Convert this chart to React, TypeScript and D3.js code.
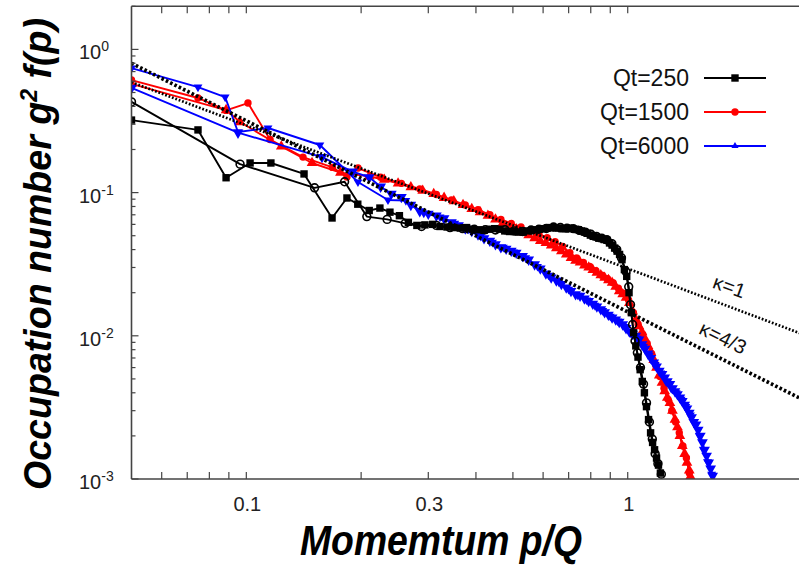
import React from 'react';
import * as d3 from 'd3';

type Pt = [number, number];

// ---------------- data (p/Q, g^2 f(p)) ----------------
const qt250Squares: Pt[] = [
  [0.05, 0.321], [0.0747, 0.274], [0.0885, 0.127], [0.1023, 0.161], [0.116, 0.161], [0.1417, 0.135],
  [0.1678, 0.0665], [0.1836, 0.0917], [0.196, 0.083], [0.21, 0.075], [0.224, 0.078], [0.238, 0.073],
  [0.252, 0.069], [0.266, 0.062], [0.28, 0.059], [0.294, 0.0595], [0.308, 0.06], [0.322, 0.058],
  [0.336, 0.0575], [0.35, 0.057], [0.364, 0.0565], [0.378, 0.057], [0.392, 0.0555], [0.406, 0.055],
  [0.42, 0.0545], [0.434, 0.0555], [0.448, 0.056], [0.462, 0.0555], [0.476, 0.054], [0.49, 0.0535],
  [0.504, 0.0535], [0.518, 0.053], [0.532, 0.053], [0.546, 0.054], [0.56, 0.0545], [0.574, 0.055],
  [0.588, 0.0555], [0.602, 0.056], [0.616, 0.0565], [0.63, 0.057], [0.644, 0.057], [0.658, 0.0565],
  [0.672, 0.056], [0.686, 0.056], [0.7, 0.0565], [0.714, 0.056], [0.728, 0.0555], [0.742, 0.055],
  [0.756, 0.054], [0.77, 0.053], [0.784, 0.052], [0.798, 0.0505], [0.812, 0.0495], [0.826, 0.049],
  [0.84, 0.048], [0.854, 0.0478], [0.868, 0.047], [0.882, 0.0465], [0.896, 0.0445], [0.91, 0.043],
  [0.924, 0.041], [0.938, 0.039], [0.952, 0.037], [0.966, 0.034], [0.98, 0.029], [0.994, 0.026],
  [1.008, 0.02], [1.022, 0.0145], [1.036, 0.0105], [1.05, 0.0085], [1.064, 0.0071], [1.078, 0.0058],
  [1.092, 0.0048], [1.106, 0.004], [1.12, 0.0032], [1.134, 0.0026], [1.148, 0.0021], [1.162, 0.0018],
  [1.176, 0.0016], [1.19, 0.0014], [1.204, 0.00125], [1.218, 0.0011],
];

const qt250Circles: Pt[] = [
  [0.05, 0.43], [0.0963, 0.158], [0.151, 0.108], [0.181, 0.119], [0.207, 0.068], [0.234, 0.065],
  [0.261, 0.061], [0.288, 0.058], [0.315, 0.059], [0.342, 0.057], [0.369, 0.056], [0.396, 0.0555],
  [0.423, 0.055], [0.45, 0.0548], [0.477, 0.055], [0.504, 0.054], [0.531, 0.0535], [0.558, 0.0548],
  [0.585, 0.0555], [0.612, 0.0562], [0.639, 0.0575], [0.666, 0.057], [0.693, 0.0565], [0.72, 0.056],
  [0.747, 0.0545], [0.774, 0.053], [0.801, 0.0512], [0.828, 0.0495], [0.855, 0.048], [0.882, 0.0468],
  [0.909, 0.044], [0.936, 0.04], [0.963, 0.035], [0.99, 0.028], [1.006, 0.022], [1.017, 0.0165],
  [1.03, 0.012], [1.045, 0.0092], [1.06, 0.0076], [1.08, 0.006], [1.1, 0.0046], [1.12, 0.0034],
  [1.14, 0.0025], [1.16, 0.0019], [1.18, 0.0015], [1.2, 0.00128], [1.225, 0.00108],
];

const qt1500Circles: Pt[] = [
  [0.05, 0.611], [0.0747, 0.458], [0.0885, 0.375], [0.101, 0.422], [0.1154, 0.235], [0.1408, 0.177],
  [0.1682, 0.15], [0.1836, 0.1285], [0.1963, 0.1485], [0.225, 0.128], [0.255, 0.116], [0.285, 0.106],
  [0.315, 0.097], [0.345, 0.089], [0.375, 0.082], [0.405, 0.076], [0.435, 0.07], [0.465, 0.065],
  [0.495, 0.061], [0.525, 0.0575], [0.555, 0.054], [0.585, 0.0512], [0.615, 0.0485], [0.645, 0.0455],
  [0.675, 0.042], [0.705, 0.038], [0.735, 0.035], [0.765, 0.0325], [0.795, 0.0305], [0.825, 0.0285],
  [0.855, 0.0265], [0.885, 0.025], [0.915, 0.0235], [0.945, 0.0215], [0.975, 0.0198], [1.005, 0.0178],
  [1.035, 0.0145], [1.065, 0.012], [1.095, 0.0102], [1.125, 0.0088], [1.155, 0.0075], [1.185, 0.0062],
  [1.215, 0.0052], [1.245, 0.0043], [1.275, 0.0036], [1.305, 0.003], [1.335, 0.0025], [1.365, 0.0021],
  [1.395, 0.0017], [1.425, 0.0014], [1.45, 0.0011],
];

const qt1500Triangles: Pt[] = [
  [0.05, 0.575], [0.0885, 0.377], [0.0963, 0.311], [0.1235, 0.21], [0.1487, 0.161], [0.1765, 0.138],
  [0.21, 0.13], [0.23, 0.123], [0.25, 0.116], [0.27, 0.109], [0.29, 0.103], [0.31, 0.098],
  [0.33, 0.092], [0.35, 0.087], [0.37, 0.082], [0.39, 0.077], [0.41, 0.073], [0.43, 0.069],
  [0.45, 0.065], [0.47, 0.061], [0.49, 0.058], [0.51, 0.0555], [0.53, 0.053], [0.55, 0.0505],
  [0.57, 0.048], [0.59, 0.046], [0.61, 0.0445], [0.63, 0.0428], [0.65, 0.041], [0.67, 0.039],
  [0.69, 0.037], [0.71, 0.035], [0.73, 0.0335], [0.75, 0.0325], [0.77, 0.031], [0.79, 0.03],
  [0.81, 0.0288], [0.83, 0.0276], [0.85, 0.0265], [0.87, 0.0255], [0.89, 0.0245], [0.91, 0.0235],
  [0.93, 0.022], [0.95, 0.0205], [0.97, 0.0195], [0.99, 0.0185], [1.01, 0.017], [1.03, 0.0148],
  [1.05, 0.013], [1.07, 0.0117], [1.09, 0.0106], [1.11, 0.0095], [1.13, 0.0085], [1.15, 0.0077],
  [1.17, 0.0068], [1.19, 0.006], [1.21, 0.0053], [1.23, 0.0047], [1.25, 0.0041], [1.27, 0.0037],
  [1.29, 0.0034], [1.31, 0.003], [1.33, 0.0026], [1.35, 0.0023], [1.37, 0.002], [1.39, 0.0017],
  [1.41, 0.0015], [1.43, 0.0013], [1.45, 0.00115], [1.46, 0.00104],
];

const qt6000TrianglesA: Pt[] = [
  [0.05, 0.741], [0.0747, 0.546], [0.088, 0.465], [0.0951, 0.265], [0.114, 0.2825], [0.1559, 0.215],
  [0.1962, 0.1186], [0.2352, 0.0888], [0.262, 0.088], [0.292, 0.072], [0.322, 0.0675], [0.352, 0.061],
  [0.382, 0.0555], [0.412, 0.0495], [0.442, 0.045], [0.472, 0.0415], [0.502, 0.0385], [0.54, 0.035],
  [0.58, 0.0305], [0.62, 0.0265], [0.66, 0.0237], [0.7, 0.0211], [0.74, 0.0192], [0.78, 0.0178],
  [0.82, 0.0163], [0.86, 0.015], [0.9, 0.0137], [0.94, 0.0127], [0.98, 0.0116], [1.02, 0.0104],
  [1.06, 0.0096], [1.1, 0.0084], [1.14, 0.0073], [1.18, 0.0063], [1.22, 0.0055], [1.26, 0.0048],
  [1.3, 0.0043], [1.34, 0.004], [1.38, 0.0036], [1.42, 0.0032], [1.46, 0.0028], [1.5, 0.0024],
  [1.54, 0.002], [1.58, 0.0016], [1.62, 0.00132], [1.66, 0.00108],
];

const qt6000TrianglesB: Pt[] = [
  [0.05, 0.538], [0.0951, 0.262], [0.1579, 0.177], [0.19, 0.14], [0.21, 0.128], [0.225, 0.11],
  [0.24, 0.098], [0.255, 0.093], [0.27, 0.082], [0.285, 0.074], [0.3, 0.071], [0.315, 0.069],
  [0.33, 0.066], [0.345, 0.062], [0.36, 0.059], [0.375, 0.056], [0.39, 0.054], [0.405, 0.051],
  [0.42, 0.048], [0.435, 0.046], [0.45, 0.0435], [0.465, 0.0415], [0.48, 0.0405], [0.495, 0.0392],
  [0.51, 0.038], [0.53, 0.036], [0.55, 0.034], [0.57, 0.0315], [0.59, 0.0295], [0.61, 0.0272],
  [0.63, 0.0255], [0.65, 0.0243], [0.67, 0.023], [0.69, 0.0217], [0.71, 0.0205], [0.73, 0.0195],
  [0.75, 0.019], [0.77, 0.0182], [0.79, 0.0175], [0.81, 0.0167], [0.83, 0.016], [0.85, 0.0153],
  [0.87, 0.0146], [0.89, 0.014], [0.91, 0.0134], [0.93, 0.013], [0.95, 0.0125], [0.97, 0.012],
  [0.99, 0.0113], [1.01, 0.0107], [1.03, 0.0103], [1.05, 0.01], [1.07, 0.0094], [1.09, 0.0087],
  [1.11, 0.0081], [1.13, 0.0075], [1.15, 0.007], [1.17, 0.0065], [1.19, 0.0061], [1.21, 0.0057],
  [1.23, 0.0054], [1.25, 0.0051], [1.27, 0.0048], [1.29, 0.0046], [1.31, 0.0043], [1.33, 0.0041],
  [1.35, 0.0039], [1.37, 0.0037], [1.39, 0.0035], [1.41, 0.0033], [1.43, 0.0031], [1.45, 0.0029],
  [1.47, 0.0027], [1.49, 0.0025], [1.51, 0.0024], [1.53, 0.0022], [1.55, 0.002], [1.57, 0.0018],
  [1.59, 0.0016], [1.61, 0.00145], [1.63, 0.0013], [1.65, 0.00118], [1.67, 0.00105],
];

// power-law reference lines (endpoints)
const kappa1Line: Pt[] = [[0.05, 0.59], [3, 0.00983]];
const kappa43Line: Pt[] = [[0.05, 0.8], [3, 0.00339]];

const xTickLabels = [0.1, 0.3, 1];
const xTickTexts = ['0.1', '0.3', '1'];
const yMajorTicks = [1e-3, 1e-2, 1e-1, 1];
const yTickExponents = ['-3', '-2', '-1', '0'];
const legendLabels = ['Qt=250', 'Qt=1500', 'Qt=6000'];
const legendColors = ['#000000', '#ff0000', '#0000ff'];

const X_DOMAIN: [number, number] = [0.05, 3];
const Y_DOMAIN: [number, number] = [1e-3, 2];

export default function App() {
  const W = 799, H = 566;
  const left = 131.5, right = 809.7, top = 6.3, bottom = 479;
  const x = d3.scaleLog().domain(X_DOMAIN).range([left, right]);
  const y = d3.scaleLog().domain(Y_DOMAIN).range([bottom, top]);
  const line = d3.line<Pt>().x(d => x(d[0])).y(d => y(d[1]));
  const font = "'Liberation Sans', Arial, Helvetica, sans-serif";
  const axisColor = '#444';

  const triBig = d3.symbol().type(d3.symbolTriangle).size(50)() as string;
  const triSmall = d3.symbol().type(d3.symbolTriangle).size(34)() as string;
  const triLegend = d3.symbol().type(d3.symbolTriangle).size(22)() as string;

  const xMinor = x.ticks().filter(v => v >= 0.059 && v <= 1.001);
  const yAll = y.ticks().filter(v => v >= 1e-3 && v <= 2.001);

  type Marker = 'square' | 'openCircle' | 'circle' | 'triUp' | 'triDown' | 'triDownSmall' | 'triLegend';
  const drawMarker = (m: Marker, cx: number, cy: number, color: string, key: string | number) => {
    switch (m) {
      case 'square':
        return <rect key={key} x={cx - 3.7} y={cy - 3.7} width={7.4} height={7.4} fill={color} />;
      case 'openCircle':
        return <circle key={key} cx={cx} cy={cy} r={3.9} fill="none" stroke={color} strokeWidth={1.6} />;
      case 'circle':
        return <circle key={key} cx={cx} cy={cy} r={3.7} fill={color} />;
      case 'triUp':
        return <path key={key} d={triBig} transform={`translate(${cx},${cy})`} fill={color} />;
      case 'triDown':
        return <path key={key} d={triBig} transform={`translate(${cx},${cy}) rotate(180)`} fill={color} />;
      case 'triDownSmall':
        return <path key={key} d={triSmall} transform={`translate(${cx},${cy}) rotate(180)`} fill={color} />;
      case 'triLegend':
        return <path key={key} d={triLegend} transform={`translate(${cx},${cy})`} fill={color} />;
    }
  };

  const series: { data: Pt[]; color: string; marker: Marker }[] = [
    { data: qt1500Circles, color: '#ff0000', marker: 'circle' },
    { data: qt1500Triangles, color: '#ff0000', marker: 'triUp' },
    { data: qt6000TrianglesA, color: '#0000ff', marker: 'triDownSmall' },
    { data: qt6000TrianglesB, color: '#0000ff', marker: 'triDown' },
    { data: qt250Circles, color: '#000000', marker: 'openCircle' },
    { data: qt250Squares, color: '#000000', marker: 'square' },
  ];

  const legendMarkers: Marker[] = ['square', 'circle', 'triLegend'];
  const legendY = [78, 112, 146];

  return (
    <svg width={W} height={H} style={{ position: 'absolute', left: 0, top: 0, background: '#fff' }}
      fontFamily={font}>
      <defs>
        <clipPath id="plotClip">
          <rect x={left} y={top} width={right - left} height={bottom - top} />
        </clipPath>
      </defs>
      <rect x={0} y={0} width={W} height={H} fill="#fff" />

      {/* data */}
      <g clipPath="url(#plotClip)">
        {series.map((s, i) => (
          <g key={i}>
            <path d={line(s.data) ?? ''} fill="none" stroke={s.color} strokeWidth={1.9} strokeLinejoin="round" />
            {s.data.map((d, j) => drawMarker(s.marker, x(d[0]), y(d[1]), s.color, j))}
          </g>
        ))}
        <path d={line(kappa1Line) ?? ''} fill="none" stroke="#000" strokeWidth={2.7} strokeDasharray="1.8 1.8" />
        <path d={line(kappa43Line) ?? ''} fill="none" stroke="#000" strokeWidth={3.7} strokeDasharray="2.6 2.2" />
      </g>

      {/* frame */}
      <line x1={left} y1={top} x2={W} y2={top} stroke={axisColor} strokeWidth={1.6} />
      <line x1={left} y1={bottom} x2={W} y2={bottom} stroke={axisColor} strokeWidth={1.6} />
      <line x1={left} y1={top} x2={left} y2={bottom} stroke={axisColor} strokeWidth={1.6} />

      {/* x ticks (bottom & top, inward) */}
      {xMinor.map((v, i) => (
        <g key={i}>
          <line x1={x(v)} x2={x(v)} y1={bottom} y2={bottom - 7} stroke={axisColor} strokeWidth={1.2} />
          <line x1={x(v)} x2={x(v)} y1={top} y2={top + 7} stroke={axisColor} strokeWidth={1.2} />
        </g>
      ))}
      {/* y ticks */}
      {yAll.map((v, i) => {
        const major = yMajorTicks.some(m => Math.abs(m - v) / m < 1e-6);
        return <line key={i} x1={left} x2={left + (major ? 7 : 4)} y1={y(v)} y2={y(v)} stroke={axisColor} strokeWidth={1.2} />;
      })}

      {/* x tick labels */}
      {xTickLabels.map((v, i) => (
        <text key={i} x={x(v) + 1} y={511} textAnchor="middle" fontSize={20} fill="#222">{xTickTexts[i]}</text>
      ))}
      {/* y tick labels */}
      {yMajorTicks.map((v, i) => (
        <text key={i} x={79} y={y(v) + 10} fontSize={20} fill="#222">
          10<tspan dy={-8} fontSize={14}>{yTickExponents[i]}</tspan>
        </text>
      ))}

      {/* legend */}
      {legendLabels.map((l, i) => (
        <g key={i}>
          <text x={689} y={legendY[i] + 8} textAnchor="end" fontSize={23} fill="#111">{l}</text>
          <line x1={704} x2={766} y1={legendY[i]} y2={legendY[i]} stroke={legendColors[i]} strokeWidth={2.2} />
          {drawMarker(legendMarkers[i], 735, legendY[i], legendColors[i], 'm' + i)}
        </g>
      ))}

      {/* kappa labels */}
      <text transform="translate(727,293) rotate(20)" textAnchor="middle" fontSize={20} fill="#111">κ=1</text>
      <text transform="translate(720,344) rotate(26)" textAnchor="middle" fontSize={20} fill="#111">κ=4/3</text>

      {/* axis titles */}
      <text transform="translate(51,254) rotate(-90)" textAnchor="middle" fontSize={39} fontWeight="bold"
        fontStyle="italic" textLength={472} lengthAdjust="spacingAndGlyphs" fill="#000">
        Occupation number g<tspan dy={-14} fontSize={24}>2</tspan><tspan dy={14}> f(p)</tspan>
      </text>
      <text x={441} y={555} textAnchor="middle" fontSize={43} fontWeight="bold" fontStyle="italic"
        textLength={282} lengthAdjust="spacingAndGlyphs" fill="#000">Momemtum p/Q</text>
    </svg>
  );
}
